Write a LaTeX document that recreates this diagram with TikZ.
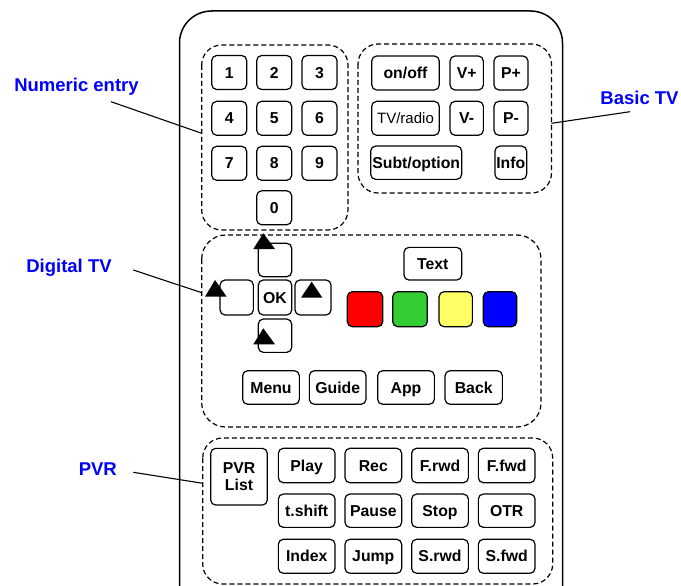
\documentclass[tikz,border=0pt]{standalone}
\usepackage{fontspec}
\setmainfont{Liberation Sans}
\begin{document}
\begin{tikzpicture}[x=1pt,y=-1pt,
  btn/.style={draw, rounded corners=5pt, line width=1.2pt, inner sep=0pt, align=center,
    text height=11.3pt, text depth=0pt,
    font=\fontsize{15.8}{17}\selectfont\bfseries},
  sq/.style={btn, minimum width=35pt, minimum height=34pt},
  wide/.style={btn, minimum width=56.7pt, minimum height=34pt},
  grp/.style={draw, dash pattern=on 5pt off 3pt, rounded corners=20pt, line width=1.2pt},
  lbl/.style={text=blue, inner sep=0pt, font=\fontsize{18.5}{20}\selectfont\bfseries},
  lead/.style={line width=1.1pt},
  tri/.style={fill=black}]
\useasboundingbox (0,0) rectangle (681,586);
\clip (0,0) rectangle (681,586);
\definecolor{bgreen}{HTML}{33CC33}
\definecolor{byellow}{HTML}{FFFF66}

% body
\draw[line width=1.5pt, rounded corners=32pt] (179.5,11) rectangle (562.5,650);

% groups
\draw[grp] (201.7,45) rectangle (348,230);
\draw[grp] (358,44) rectangle (551.5,193);
\draw[grp, rounded corners=24pt] (201.7,235) rectangle (541,427);
\draw[grp] (202.7,438) rectangle (552.7,584);

% numeric
\node[sq] (n1) at (229.2,72.5) {1};
\node[sq] (n2) at (274.2,72.5) {2};
\node[sq] (n3) at (319.5,72.5) {3};
\node[sq] (n4) at (229.2,118.3) {4};
\node[sq] (n5) at (274.2,118.3) {5};
\node[sq] (n6) at (319.5,118.3) {6};
\node[sq] (n7) at (229.2,163.3) {7};
\node[sq] (n8) at (274.2,163.3) {8};
\node[sq] (n9) at (319.5,163.3) {9};
\node[sq] (n0) at (274.2,207.8) {0};

% basic TV
\node[btn, minimum width=67.6pt, minimum height=34pt] (onoff) at (405.5,73) {on/off};
\node[btn, minimum width=33.3pt, minimum height=34pt] (vp) at (466.7,73) {V+};
\node[btn, minimum width=34pt, minimum height=34pt] (pp) at (511,73) {P+};
\node[btn, minimum width=67.6pt, minimum height=34pt, font=\fontsize{15}{17}\selectfont] (tvr) at (405.5,118.3) {TV/radio};
\node[btn, minimum width=33.3pt, minimum height=34pt] (vm) at (466.7,118.3) {V-};
\node[btn, minimum width=34pt, minimum height=34pt] (pm) at (511,118.3) {P-};
\node[btn, minimum width=91pt, minimum height=33.3pt] (subt) at (416.2,162.7) {Subt/option};
\node[btn, minimum width=31.7pt, minimum height=33.3pt] (info) at (510.8,162.7) {Info};

% digital TV
\node[btn, minimum width=33.4pt, minimum height=33.4pt] (up) at (275,260) {};
\node[btn, minimum width=33.3pt, minimum height=35pt] (left) at (236.7,297.5) {};
\node[btn, minimum width=33.4pt, minimum height=35pt] (ok) at (275,297.5) {OK};
\node[btn, minimum width=36pt, minimum height=35pt] (right) at (313,297.5) {};
\node[btn, minimum width=33.4pt, minimum height=33.3pt] (down) at (275,335.7) {};
\fill[tri] (263.3,233.3) -- (253.3,249) -- (275,249) -- cycle;
\fill[tri] (215,280) -- (205,296.7) -- (226.7,296.7) -- cycle;
\fill[tri] (311.7,281.7) -- (301,297.7) -- (322.3,297.7) -- cycle;
\fill[tri] (263.3,328.3) -- (253.3,344.3) -- (275,344.3) -- cycle;

\node[btn, minimum width=57.7pt, minimum height=32.7pt] (text) at (432.8,263.7) {Text};
\node[btn, minimum width=35.4pt, minimum height=35pt, fill=red] (red) at (365,309.2) {};
\node[btn, minimum width=34.6pt, minimum height=35pt, fill=bgreen] (green) at (410,309.2) {};
\node[btn, minimum width=33.3pt, minimum height=35pt, fill=byellow] (yellow) at (455.7,309.2) {};
\node[btn, minimum width=33.4pt, minimum height=35pt, fill=blue] (blue) at (500,309.2) {};

\node[wide, minimum height=33.6pt] (menu) at (271,387.5) {Menu};
\node[wide, minimum height=33.6pt] (guide) at (337.7,387.5) {Guide};
\node[wide, minimum height=33.6pt] (app) at (406,387.5) {App};
\node[wide, minimum width=57.3pt, minimum height=33.6pt] (back) at (473.7,387.5) {Back};

% PVR
\node[btn, minimum width=56.6pt, minimum height=56.7pt, text height=, text depth=] (pvrl) at (239,476.7) {PVR\\List};
\node[wide, minimum height=34.4pt] (play) at (306.7,465.5) {Play};
\node[wide, minimum height=34.4pt] (rec) at (373.3,465.5) {Rec};
\node[wide, minimum height=34.4pt] (frwd) at (440,465.5) {F.rwd};
\node[wide, minimum height=34.4pt] (ffwd) at (506.7,465.5) {F.fwd};
\node[wide, minimum height=33.3pt] (tshift) at (306.7,510.7) {t.shift};
\node[wide, minimum height=33.3pt] (pause) at (373.3,510.7) {Pause};
\node[wide, minimum height=33.3pt] (stop) at (440,510.7) {Stop};
\node[wide, minimum height=33.3pt] (otr) at (506.7,510.7) {OTR};
\node[wide, minimum height=34pt] (index) at (306.7,556.3) {Index};
\node[wide, minimum height=34pt] (jump) at (373.3,556.3) {Jump};
\node[wide, minimum height=34pt] (srwd) at (440,556.3) {S.rwd};
\node[wide, minimum height=34pt] (sfwd) at (506.7,556.3) {S.fwd};

% labels
\node[lbl] (lnum) at (76.5,87) {Numeric entry};
\node[lbl] (lbasic) at (639.5,97.5) {Basic TV};
\node[lbl] (ldig) at (69,267.5) {Digital TV};
\node[lbl] (lpvr) at (97.8,469.5) {PVR};

\coordinate (numA) at (111,101.7);
\coordinate (numB) at (201.7,133.3);
\coordinate (basA) at (630,111.7);
\coordinate (basB) at (551.5,123.3);
\coordinate (digA) at (133.3,270);
\coordinate (digB) at (201.7,292.7);
\coordinate (pvrA) at (133.3,472.3);
\coordinate (pvrB) at (202.7,483.3);
\draw[lead] (numA) -- (numB);
\draw[lead] (basA) -- (basB);
\draw[lead] (digA) -- (digB);
\draw[lead] (pvrA) -- (pvrB);
\end{tikzpicture}
\end{document}
